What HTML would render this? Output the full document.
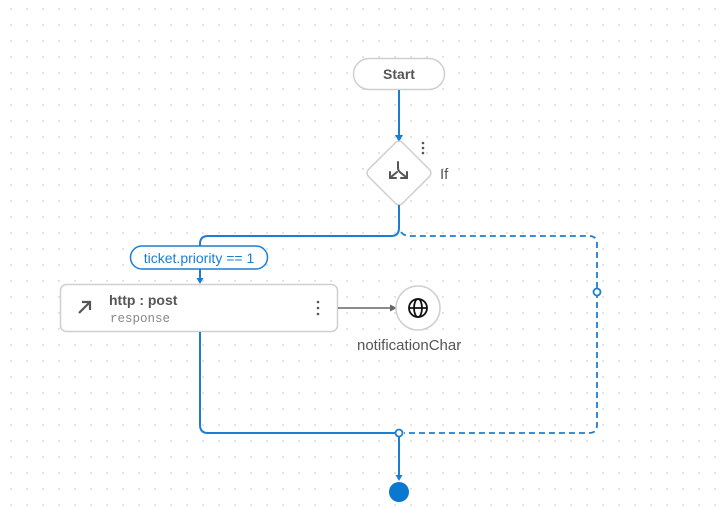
<!DOCTYPE html>
<html><head><meta charset="utf-8"><style>
html,body{margin:0;padding:0;background:#fff;}
svg{display:block;font-family:"Liberation Sans",sans-serif;}
</style></head><body>
<svg width="724" height="510" viewBox="0 0 724 510" xmlns="http://www.w3.org/2000/svg">
<defs>
<pattern id="dots" x="10" y="8" width="16" height="16" patternUnits="userSpaceOnUse">
<rect x="0" y="0" width="2" height="2" fill="#e3e3e3"/>
</pattern>
</defs>
<rect width="724" height="510" fill="url(#dots)"/>

<rect x="353.5" y="58.5" width="91" height="31" rx="15.5" fill="#fff" stroke="#cfcfcf" stroke-width="1.5"/>
<text x="399" y="79" text-anchor="middle" font-size="14" font-weight="bold" fill="#555">Start</text>
<line x1="399" y1="90" x2="399" y2="136" stroke="#1a7fd4" stroke-width="2"/>
<polygon points="395,135 403,135 399,142" fill="#1a7fd4"/>

<rect x="375" y="149" width="48" height="48" rx="5" transform="rotate(45 399 173)" fill="#fff" stroke="#cfcfcf" stroke-width="1.5"/>
<g stroke="#555" stroke-width="2" fill="none" stroke-linecap="round">
<path d="M398 162 L398 168 Q398 171 401 173 L406 177"/>
<path d="M397 172 L391 177"/>
<path d="M390 172 L390 178 L396 178"/>
<path d="M407 172 L407 178 L401 178"/>
</g>
<circle cx="423" cy="143" r="1.3" fill="#555"/><circle cx="423" cy="148" r="1.3" fill="#555"/><circle cx="423" cy="153" r="1.3" fill="#555"/>
<text x="440" y="179" font-size="15" fill="#555">If</text>

<path d="M399 205 L399 228 Q399 236 391 236 L208 236 Q200 236 200 244 L200 246" fill="none" stroke="#1a7fd4" stroke-width="2"/>
<path d="M401 232 Q404 236 410 236 L589 236 Q597 236 597 244 L597 425 Q597 433 589 433 L404 433" fill="none" stroke="#1a7fd4" stroke-width="1.8" stroke-dasharray="6 4"/>
<circle cx="597" cy="292" r="3.5" fill="#fff" stroke="#1a7fd4" stroke-width="1.8"/>

<rect x="130.5" y="246" width="137" height="23" rx="11.5" fill="#fff" stroke="#1a7fd4" stroke-width="1.5"/>
<text x="199" y="263" text-anchor="middle" font-size="14" fill="#1a7fd4">ticket.priority == 1</text>
<line x1="200" y1="269" x2="200" y2="279" stroke="#1a7fd4" stroke-width="2"/>
<polygon points="196.5,278 203.5,278 200,284" fill="#1a7fd4"/>

<rect x="60.5" y="284.5" width="277" height="47" rx="6" fill="#fff" stroke="#cfcfcf" stroke-width="1.5"/>
<g stroke="#555" stroke-width="2.2" fill="none"><path d="M79 313 L90 302"/><path d="M82 302 L90 302 L90 310"/></g>
<text x="109" y="305" font-size="14" font-weight="bold" fill="#555">http : post</text>
<text x="110" y="322" font-size="12.5" fill="#888" font-family="Liberation Mono,monospace">response</text>
<circle cx="318" cy="302" r="1.3" fill="#555"/><circle cx="318" cy="308" r="1.3" fill="#555"/><circle cx="318" cy="314" r="1.3" fill="#555"/>

<line x1="338" y1="308" x2="391" y2="308" stroke="#666" stroke-width="1.5"/>
<polygon points="390,304.5 397,308 390,311.5" fill="#666"/>

<circle cx="418" cy="308" r="22" fill="#fff" stroke="#cfcfcf" stroke-width="1.5"/>
<g stroke="#111" stroke-width="1.8" fill="none">
<circle cx="418" cy="308" r="9"/>
<ellipse cx="418" cy="308" rx="4" ry="9"/>
<line x1="409" y1="308" x2="427" y2="308"/>
</g>
<text x="357" y="350" font-size="15" fill="#555">notificationChar</text>

<path d="M200 332 L200 425 Q200 433 208 433 L395 433" fill="none" stroke="#1a7fd4" stroke-width="2"/>
<circle cx="399" cy="433" r="3.5" fill="#fff" stroke="#1a7fd4" stroke-width="1.8"/>
<line x1="399" y1="437" x2="399" y2="476" stroke="#1a7fd4" stroke-width="2"/>
<polygon points="395.5,475 402.5,475 399,481" fill="#1a7fd4"/>
<circle cx="399" cy="492" r="10" fill="#0a78d1"/>
</svg>
</body></html>
